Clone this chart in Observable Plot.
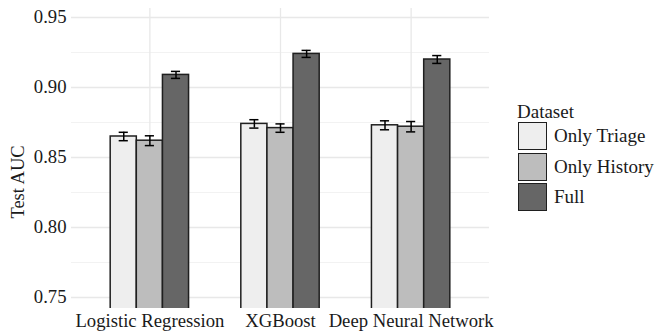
<!DOCTYPE html>
<html>
<head>
<meta charset="utf-8">
<script src="https://cdn.jsdelivr.net/npm/d3@7"></script>
<script src="https://cdn.jsdelivr.net/npm/@observablehq/plot@0.6"></script>
<style>
  html, body { margin: 0; padding: 0; background: #ffffff; }
  #wrap { position: relative; width: 658px; height: 331px; overflow: hidden; font-family: "Liberation Serif", "Times New Roman", serif; color: #1a1a1a; }
  #chart { position: absolute; left: 0; top: 0; }
  #ytitle { position: absolute; left: 18px; top: 182px; transform: translate(-50%, -50%) rotate(-90deg); font-size: 18.5px; white-space: nowrap; line-height: 20px; }
  #legend { position: absolute; left: 517px; top: 102px; font-size: 19px; }
  #legend .title { position: absolute; left: 0; top: 0; line-height: 20px; white-space: nowrap; }
  #legend .item { position: absolute; left: 1px; height: 29px; white-space: nowrap; }
  #legend .sw { position: absolute; left: 0; top: 0; width: 27px; height: 26px; border: 1.5px solid #1f1f1f; }
  #legend .lab { position: absolute; left: 36px; top: 4px; line-height: 20px; }
</style>
</head>
<body>
<div id="wrap">
  <div id="chart"></div>
  <div id="ytitle">Test AUC</div>
  <div id="legend"></div>
</div>
<script>
// ---- data ----
const models = ["Logistic Regression", "XGBoost", "Deep Neural Network"];
const datasets = ["Only Triage", "Only History", "Full"];
const aucTriage  = [0.865, 0.874, 0.873];
const aucHistory = [0.862, 0.871, 0.872];
const aucFull    = [0.909, 0.924, 0.920];
const errTriage  = [0.003, 0.003, 0.0032];
const errHistory = [0.0035, 0.003, 0.0037];
const errFull    = [0.0025, 0.0025, 0.0028];
const fills = ["#eeeeee", "#bdbdbd", "#666666"];
const yTicks = [0.75, 0.80, 0.85, 0.90, 0.95];
const yMinor = [0.775, 0.825, 0.875, 0.925];
const legendTitle = "Dataset";

// ---- table built from the arrays ----
const aucs = [aucTriage, aucHistory, aucFull];
const errs = [errTriage, errHistory, errFull];
const dodge = 0.2;      // width of one dodged bar in model units
const capHalf = 0.035;  // half width of error-bar cap
const rows = [];
models.forEach((m, i) => {
  datasets.forEach((ds, j) => {
    rows.push({
      model: m,
      dataset: ds,
      auc: aucs[j][i],
      err: errs[j][i],
      pos: (i + 1) + (j - 1) * dodge
    });
  });
});

const plot = Plot.plot({
  width: 658,
  height: 331,
  marginLeft: 71,
  marginRight: 169,
  marginTop: 8,
  marginBottom: 23,
  style: { fontFamily: "'Liberation Serif', 'Times New Roman', serif", fontSize: "18.7px", color: "#1a1a1a", background: "transparent" },
  x: {
    type: "linear",
    domain: [0.4, 3.6],
    ticks: [1, 2, 3],
    tickFormat: d => models[d - 1],
    tickSize: 0,
    tickPadding: 5,
    label: null
  },
  y: {
    domain: [0.74214, 0.95643],
    ticks: yTicks,
    tickFormat: d3.format(".2f"),
    tickSize: 0,
    tickPadding: 5,
    label: null
  },
  color: { domain: datasets, range: fills },
  marks: [
    Plot.ruleY(yMinor, { stroke: "#f2f2f2", strokeWidth: 1 }),
    Plot.ruleY(yTicks, { stroke: "#e8e8e8", strokeWidth: 1.3 }),
    Plot.ruleX([1, 2, 3], { stroke: "#e8e8e8", strokeWidth: 1.3 }),
    Plot.rect(rows, {
      x1: d => d.pos - dodge / 2,
      x2: d => d.pos + dodge / 2,
      y1: () => 0.7,
      y2: "auc",
      fill: "dataset",
      stroke: "#1f1f1f",
      strokeWidth: 1.5,
      clip: true
    }),
    Plot.ruleX(rows, { x: "pos", y1: d => d.auc - d.err, y2: d => d.auc + d.err, stroke: "#000", strokeWidth: 1.5 }),
    Plot.ruleY(rows, { y: d => d.auc - d.err, x1: d => d.pos - capHalf, x2: d => d.pos + capHalf, stroke: "#000", strokeWidth: 1.5 }),
    Plot.ruleY(rows, { y: d => d.auc + d.err, x1: d => d.pos - capHalf, x2: d => d.pos + capHalf, stroke: "#000", strokeWidth: 1.5 })
  ]
});
document.getElementById("chart").appendChild(plot);

// ---- legend (HTML, from the same arrays / colour scale) ----
const legend = document.getElementById("legend");
const t = document.createElement("div");
t.className = "title";
t.textContent = legendTitle;
legend.appendChild(t);
const colorScale = plot.scale("color");
datasets.forEach((ds, j) => {
  const item = document.createElement("div");
  item.className = "item";
  item.style.top = (20 + j * 30.6) + "px";
  const sw = document.createElement("div");
  sw.className = "sw";
  sw.style.background = fills[colorScale.domain.indexOf(ds)];
  const lab = document.createElement("div");
  lab.className = "lab";
  lab.textContent = ds;
  item.appendChild(sw);
  item.appendChild(lab);
  legend.appendChild(item);
});
</script>
</body>
</html>
